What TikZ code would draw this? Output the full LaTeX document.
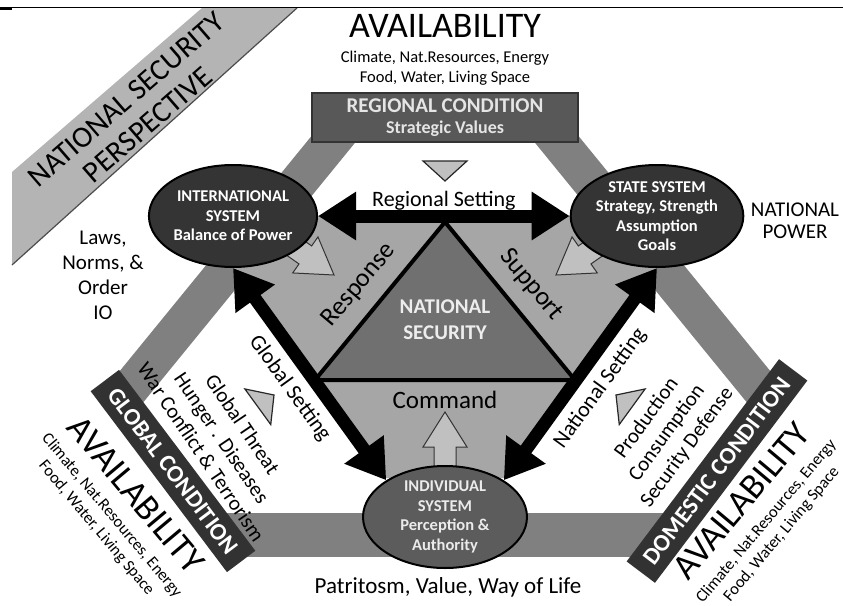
\documentclass[tikz,border=0pt]{standalone}
\usepackage{fontspec}
\setmainfont{Carlito}
\usetikzlibrary{arrows.meta,shapes.geometric,positioning}
\definecolor{bandgray}{RGB}{128,128,128}
\definecolor{regiongray}{RGB}{166,166,166}
\definecolor{coregray}{RGB}{112,112,112}
\definecolor{sysdark}{RGB}{52,52,52}
\definecolor{indivgray}{RGB}{92,92,92}
\definecolor{boxgray}{RGB}{88,88,88}
\definecolor{conddark}{RGB}{50,50,50}
\definecolor{bannergray}{RGB}{180,180,180}
\definecolor{pale}{RGB}{192,192,192}
\newcommand{\fs}[2]{\fontsize{#1}{#2}\selectfont}
\newcommand{\availtext}{{\fs{36}{36}AVAILABILITY}\\[5pt]Climate, Nat.Resources, Energy\\Food, Water, Living Space}
\tikzset{
  blockarrow/.pic={\draw[draw=black!80, line width=1pt, fill=pale] (0,0) -- (-35,22) -- (-35,11) -- (-62,11) -- (-62,-11) -- (-35,-11) -- (-35,-22) -- cycle;},
  minitri/.pic={\draw[draw=black!85, line width=1.2pt, fill=pale] (0,0) -- (-20,22) -- (-20,-22) -- cycle;}
}

\begin{document}
\begin{tikzpicture}[x=1pt,y=-1pt]
\tikzstyle{band}=[line width=38pt, draw=bandgray]
\tikzstyle{sys}=[ellipse, draw=black, line width=2pt, fill=sysdark, text=white, align=center, inner sep=0pt, minimum width=166pt, minimum height=102pt, font=\bfseries\fs{16.5}{19.5}]
\tikzstyle{setarrow}=[line width=13pt, {Triangle[length=38pt,width=46pt]}-{Triangle[length=38pt,width=46pt]}]
\tikzstyle{setlabel}=[font=\fs{22}{26}, inner xsep=2pt, outer sep=0pt]
\tikzstyle{condbox}=[draw=black!80, line width=1.5pt, fill=conddark, text=white, font=\bfseries\fs{24}{28}, minimum height=34pt, inner xsep=12pt]
\tikzstyle{note}=[align=center, font=\fs{21}{25}]
\tikzstyle{avail}=[align=center, font=\fs{16.5}{20}, inner sep=0pt]

\useasboundingbox (0,0) rectangle (843,605);

% corner ribbon and rule
\fill[bannergray] (12,172) -- (202,8) -- (297,8) -- (12,265) -- cycle;
\draw[black!70, line width=1.2pt] (12,265) -- (297,8);
\node[font=\fs{30}{33}, align=center, rotate=41] (banner) at (137,112) {NATIONAL SECURITY\\PERSPECTIVE};
\draw[line width=1pt] (0,7) -- (843,7);
\draw[line width=3pt] (0,8.5) -- (12,8.5);

% outer triangle
\draw[band] (345,125) -- (119,402);
\draw[band] (545,125) -- (771,402);
\draw[band, line width=44pt] (219,535) -- (671,535);

% inner field
\fill[regiongray] (316,216) -- (574,216) -- (657,267) -- (504,478) -- (386,478) -- (233,267) -- cycle;
\draw[line width=4pt, fill=coregray] (445,222) -- (575,380) -- (315,380) -- cycle;

\pic[rotate=-35] at (334,275) {blockarrow};
\pic[rotate=-145] at (556,275) {blockarrow};
\pic[rotate=90] at (445,412) {blockarrow};
\pic[rotate=-90] at (445,181) {minitri};
\pic[rotate=36] at (274,395) {minitri};
\pic[rotate=144] at (616,395) {minitri};

% systems
\node[sys] (intl) at (233,216) {INTERNATIONAL\\SYSTEM\\Balance of Power};
\node[sys] (state) at (657,216) {STATE SYSTEM\\Strategy, Strength\\Assumption\\Goals};
\node[sys, fill=indivgray, text=white!92!black, minimum width=164pt] (indiv) at (445,517) {INDIVIDUAL\\SYSTEM\\Perception \&\\Authority};

\draw [setarrow] (intl.east) to node [setlabel, above, inner ysep=6pt] {Regional Setting} (state.west);
\draw [setarrow] (intl.south) to node [setlabel, below, sloped, inner ysep=15pt] {Global Setting} (indiv.148);
\draw [setarrow] (state.south) to node [setlabel, below, sloped, inner ysep=15pt] {National Setting} (indiv.32);

% conditions
\node[condbox, fill=boxgray, text=white!90!black, minimum width=266pt, minimum height=49pt, align=center, font=\bfseries\fs{21}{21}] (regional) at (445,117.5) {REGIONAL CONDITION\\{\fs{18}{20}Strategic Values}};
\node[condbox, rotate=-53] (global) at (173,471) {GLOBAL CONDITION};
\node[condbox, rotate=53] (domestic) at (717,471) {DOMESTIC CONDITION};

% texts
\node[avail] (availtop) at (445,50) {\availtext};
\node[avail, rotate=-50] (availleft) at (118,510) {\availtext};
\node[avail, rotate=50] (availright) at (760,516) {\availtext};
\node[note] (laws) at (103,275) {Laws,\\Norms, \&\\Order\\IO};
\node[note, font=\fs{21}{22}] (power) at (795,221) {NATIONAL\\POWER};
\node[note, rotate=-56] (threat) at (222,438) {Global Threat\\Hunger . Diseases\\War Conflict \& Terrorism};
\node[note, rotate=54] (economy) at (667,433) {Production\\Consumption\\Security Defense};
\node[font=\fs{26}{30}, rotate=50] (response) at (359,285) {Response};
\node[font=\fs{26}{30}, rotate=-50] (support) at (531,285) {Support};
\node[align=center, font=\bfseries\fs{21}{26}, text=white!93!black] (natsec) at (445,320) {NATIONAL\\SECURITY};
\node[font=\fs{25}{30}] (command) at (445,400) {Command};
\node[font=\fs{23}{28}] (values) at (448,587) {Patritosm, Value, Way of Life};
\end{tikzpicture}
\end{document}
